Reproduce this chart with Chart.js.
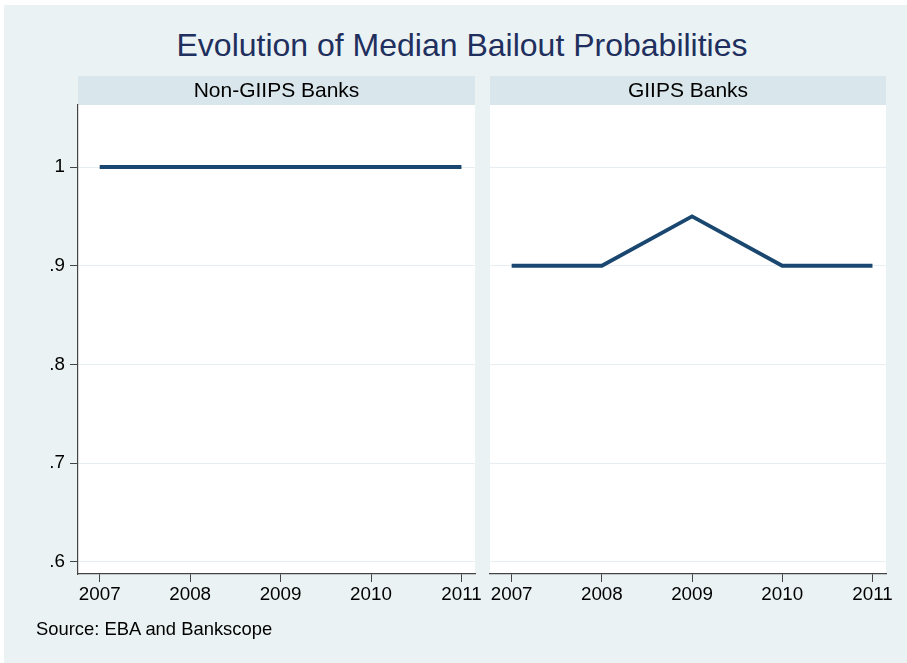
<!DOCTYPE html>
<html>
<head>
<meta charset="utf-8">
<script src="https://cdn.jsdelivr.net/npm/chart.js@4/dist/chart.umd.min.js"></script>
<style>
  html, body { margin: 0; padding: 0; background: #ffffff; }
  #page { position: relative; width: 907px; height: 663px; overflow: hidden; }
  #bg { position: absolute; left: 4px; top: 5px; width: 903px; height: 658px; background: #EAF2F3; }
  .cv { position: absolute; left: 0; top: 0; width: 907px; height: 663px; }
  #title { position: absolute; left: 0; width: 924px; top: 25px; text-align: center;
           font-family: "Liberation Sans", Arial, sans-serif; font-size: 32px; color: #1f2f5e; line-height: 40px; }
  #source { position: absolute; left: 36px; top: 617px; font-family: "Liberation Sans", Arial, sans-serif;
            font-size: 18.4px; color: #000; line-height: 24px; }
</style>
</head>
<body>
<div id="page">
  <div id="bg"></div>
  <div id="title">Evolution of Median Bailout Probabilities</div>
  <div class="cv"><canvas id="c1" width="907" height="663"></canvas></div>
  <div class="cv"><canvas id="c2" width="907" height="663"></canvas></div>
  <div id="source">Source: EBA and Bankscope</div>
</div>
<script>
const years = [2007, 2008, 2009, 2010, 2011];
const panelTitles = ["Non-GIIPS Banks", "GIIPS Banks"];
const nonGiips = [1, 1, 1, 1, 1];
const giips = [0.9, 0.9, 0.95, 0.9, 0.9];
const yTicks = [0.6, 0.7, 0.8, 0.9, 1];
const yTickLabels = [".6", ".7", ".8", ".9", "1"];

const FONT = '"Liberation Sans", Arial, sans-serif';
const LINE_COLOR = '#1a476f';
const STRIP_TOP = 76;

const stripPlugin = {
  id: 'strip',
  beforeDraw(chart, args, opts) {
    const { ctx, chartArea } = chart;
    ctx.save();
    ctx.fillStyle = '#D9E6EB';
    ctx.fillRect(chartArea.left, STRIP_TOP, chartArea.right - chartArea.left, chartArea.top - STRIP_TOP);
    ctx.fillStyle = '#ffffff';
    ctx.fillRect(chartArea.left, chartArea.top, chartArea.right - chartArea.left, chartArea.bottom - chartArea.top);
    ctx.fillStyle = '#000000';
    ctx.font = '21px ' + FONT;
    ctx.textAlign = 'center';
    ctx.textBaseline = 'middle';
    ctx.fillText(opts.text, (chartArea.left + chartArea.right) / 2, (STRIP_TOP + chartArea.top) / 2 + 0.5);
    ctx.restore();
  }
};

function makeChart(id, title, values, showY, padLeft, padRight) {
  return new Chart(document.getElementById(id), {
    type: 'line',
    data: {
      datasets: [{
        data: years.map((y, i) => ({ x: y, y: values[i] })),
        borderColor: LINE_COLOR,
        borderWidth: 3.8,
        borderCapStyle: 'butt',
        borderJoinStyle: 'miter',
        pointRadius: 0,
        tension: 0,
        fill: false
      }]
    },
    options: {
      responsive: false,
      devicePixelRatio: 1,
      animation: false,
      layout: { padding: { left: padLeft, right: padRight, top: 105, bottom: 59 } },
      plugins: {
        legend: { display: false },
        tooltip: { enabled: false },
        title: { display: false },
        strip: { text: title }
      },
      scales: {
        x: {
          type: 'linear',
          min: 2006.76,
          max: 2011.15,
          afterBuildTicks: (s) => { s.ticks = years.map(v => ({ value: v })); },
          afterFit: (s) => { s.height = 30; s.paddingLeft = 0; s.paddingRight = 0; },
          ticks: {
            autoSkip: false,
            maxRotation: 0,
            color: '#000',
            padding: 2,
            font: { family: FONT, size: 18.8 },
            callback: (v) => String(v)
          },
          grid: { display: true, drawOnChartArea: false, drawTicks: true, tickLength: 8, tickColor: '#444', lineWidth: 1 },
          border: { display: true, color: '#444', width: 1.2 }
        },
        y: {
          type: 'linear',
          min: 0.5878,
          max: 1.0628,
          afterBuildTicks: (s) => { s.ticks = yTicks.map(v => ({ value: v })); },
          afterFit: (s) => { s.width = showY ? 78 : 0; },
          ticks: {
            display: showY,
            color: '#000',
            padding: 5,
            font: { family: FONT, size: 18.8 },
            callback: (v) => { const i = yTicks.findIndex(t => Math.abs(t - v) < 1e-9); return i >= 0 ? yTickLabels[i] : ''; }
          },
          grid: { display: true, drawOnChartArea: true, drawTicks: showY, tickLength: 8, color: '#E6EEF1', tickColor: '#444', lineWidth: 1 },
          border: { display: showY, color: '#444', width: 1.2 }
        }
      }
    },
    plugins: [stripPlugin]
  });
}

makeChart('c1', panelTitles[0], nonGiips, true, 0, 907 - 475);
makeChart('c2', panelTitles[1], giips, false, 490, 907 - 886);
</script>
</body>
</html>
